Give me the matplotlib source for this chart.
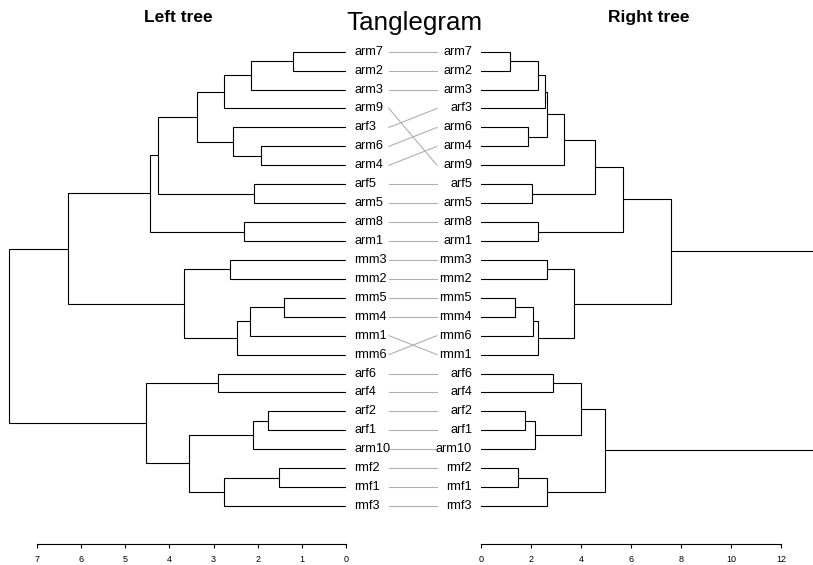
import matplotlib
matplotlib.use("Agg")
import matplotlib.pyplot as plt

plt.rcParams['font.family'] = ['Liberation Sans', 'DejaVu Sans']

# Leaf order (top to bottom) for each dendrogram
left_leaves = ["arm7", "arm2", "arm3", "arm9", "arf3", "arm6", "arm4", "arf5", "arm5",
               "arm8", "arm1", "rmm3", "rmm2", "rmm5", "rmm4", "rmm1", "rmm6",
               "arf6", "arf4", "arf2", "arf1", "arm10", "rmf2", "rmf1", "rmf3"]
right_leaves = ["arm7", "arm2", "arm3", "arf3", "arm6", "arm4", "arm9", "arf5", "arm5",
                "arm8", "arm1", "rmm3", "rmm2", "rmm5", "rmm4", "rmm6", "rmm1",
                "arf6", "arf4", "arf2", "arf1", "arm10", "rmf2", "rmf1", "rmf3"]

# Merge steps: (child a, child b, height). Integers refer to earlier merges.
left_merges = [
    ("arm7", "arm2", 1.19), (0, "arm3", 2.15), (1, "arm9", 2.76),
    ("arm6", "arm4", 1.93), ("arf3", 3, 2.55), (2, 4, 3.38),
    ("arf5", "arm5", 2.08), (5, 6, 4.26), ("arm8", "arm1", 2.31), (7, 8, 4.44),
    ("rmm3", "rmm2", 2.63), ("rmm5", "rmm4", 1.40), (11, "rmm1", 2.18),
    (12, "rmm6", 2.47), (10, 13, 3.66), (9, 14, 6.30),
    ("arf6", "arf4", 2.91), ("arf2", "arf1", 1.77), (17, "arm10", 2.11),
    ("rmf2", "rmf1", 1.52), (19, "rmf3", 2.76), (18, 20, 3.55), (16, 21, 4.54),
    (15, 22, 7.63),
]
right_merges = [
    ("arm7", "arm2", 1.16), (0, "arm3", 2.29), (1, "arf3", 2.55),
    ("arm6", "arm4", 1.89), (2, 3, 2.65), (4, "arm9", 3.32),
    ("arf5", "arm5", 2.05), (5, 6, 4.55), ("arm8", "arm1", 2.29), (7, 8, 5.67),
    ("rmm3", "rmm2", 2.63), ("rmm5", "rmm4", 1.37), (11, "rmm6", 2.09),
    (12, "rmm1", 2.29), (10, 13, 3.71), (9, 14, 7.61),
    ("arf6", "arf4", 2.89), ("arf2", "arf1", 1.75), (17, "arm10", 2.15),
    (16, 18, 4.01), ("rmf2", "rmf1", 1.48), (20, "rmf3", 2.64), (19, 21, 4.95),
    (15, 22, 14.0),
]

left_ticks = [0, 1, 2, 3, 4, 5, 6, 7]
right_ticks = [0, 2, 4, 6, 8, 10, 12]

# figure layout in pixels
W, H = 813, 565
TOP_PX, AXIS_PX = 30, 544
FIRST_LEAF_PX, LEAF_STEP_PX = 51.7, 18.93
LEFT_END_PX, RIGHT_START_PX = 346, 481
LEFT_PX_PER_UNIT, RIGHT_PX_PER_UNIT = 44.14, 25.0

y_top = (TOP_PX - FIRST_LEAF_PX) / LEAF_STEP_PX
y_bottom = (AXIS_PX - FIRST_LEAF_PX) / LEAF_STEP_PX


def add_panel(fig, x0, x1):
    ax = fig.add_axes([x0 / W, 1 - AXIS_PX / H, (x1 - x0) / W, (AXIS_PX - TOP_PX) / H])
    ax.set_ylim(y_bottom, y_top)
    return ax


def draw_tree(ax, leaves, merges):
    """Draw a rectangular dendrogram, leaves at height 0."""
    pos = {name: (0.0, i) for i, name in enumerate(leaves)}
    nodes = []
    for a, b, h in merges:
        ha, ya = nodes[a] if isinstance(a, int) else pos[a]
        hb, yb = nodes[b] if isinstance(b, int) else pos[b]
        ax.plot([ha, h, h, hb], [ya, ya, yb, yb], color='black', lw=0.8,
                solid_joinstyle='miter', clip_on=True)
        nodes.append((h, (ya + yb) / 2))


def style_axis(ax, ticks):
    for side in ['top', 'left', 'right']:
        ax.spines[side].set_visible(False)
    ax.spines['bottom'].set_bounds(min(ticks), max(ticks))
    ax.spines['bottom'].set_linewidth(0.8)
    ax.set_yticks([])
    ax.set_xticks(ticks)
    ax.tick_params(axis='x', direction='out', length=3, width=0.8, pad=5, labelsize=6.5)
    ax.patch.set_visible(False)


fig = plt.figure(figsize=(W / 100, H / 100), dpi=100)

# left tree grows to the left
ax_l = add_panel(fig, 0, LEFT_END_PX)
ax_l.set_xlim(LEFT_END_PX / LEFT_PX_PER_UNIT, 0)
draw_tree(ax_l, left_leaves, left_merges)
style_axis(ax_l, left_ticks)

# right tree grows to the right (root runs off the edge)
ax_r = add_panel(fig, RIGHT_START_PX, W)
ax_r.set_xlim(0, (W - RIGHT_START_PX) / RIGHT_PX_PER_UNIT)
draw_tree(ax_r, right_leaves, right_merges)
style_axis(ax_r, right_ticks)

# middle: labels and connecting lines
ax_m = add_panel(fig, LEFT_END_PX, RIGHT_START_PX)
ax_m.set_xlim(LEFT_END_PX, RIGHT_START_PX)
ax_m.axis('off')
for i, name in enumerate(left_leaves):
    ax_m.text(354, i, name, ha='left', va='center', fontsize=9.2)
for j, name in enumerate(right_leaves):
    ax_m.text(472, j, name, ha='right', va='center', fontsize=9.2)
for i, name in enumerate(left_leaves):
    j = right_leaves.index(name)
    ax_m.plot([389, 437], [i, j], color='#b0b0b0', lw=0.8)

fig.text(414 / W, 1 - 30 / H, "Tanglegram", ha='center', va='baseline', fontsize=18.7)
fig.text(178 / W, 1 - 22 / H, "Left tree", ha='center', va='baseline',
         fontsize=12.5, fontweight='bold')
fig.text(649 / W, 1 - 22 / H, "Right tree", ha='center', va='baseline',
         fontsize=12.5, fontweight='bold')

fig.savefig('out.png', dpi=100)
